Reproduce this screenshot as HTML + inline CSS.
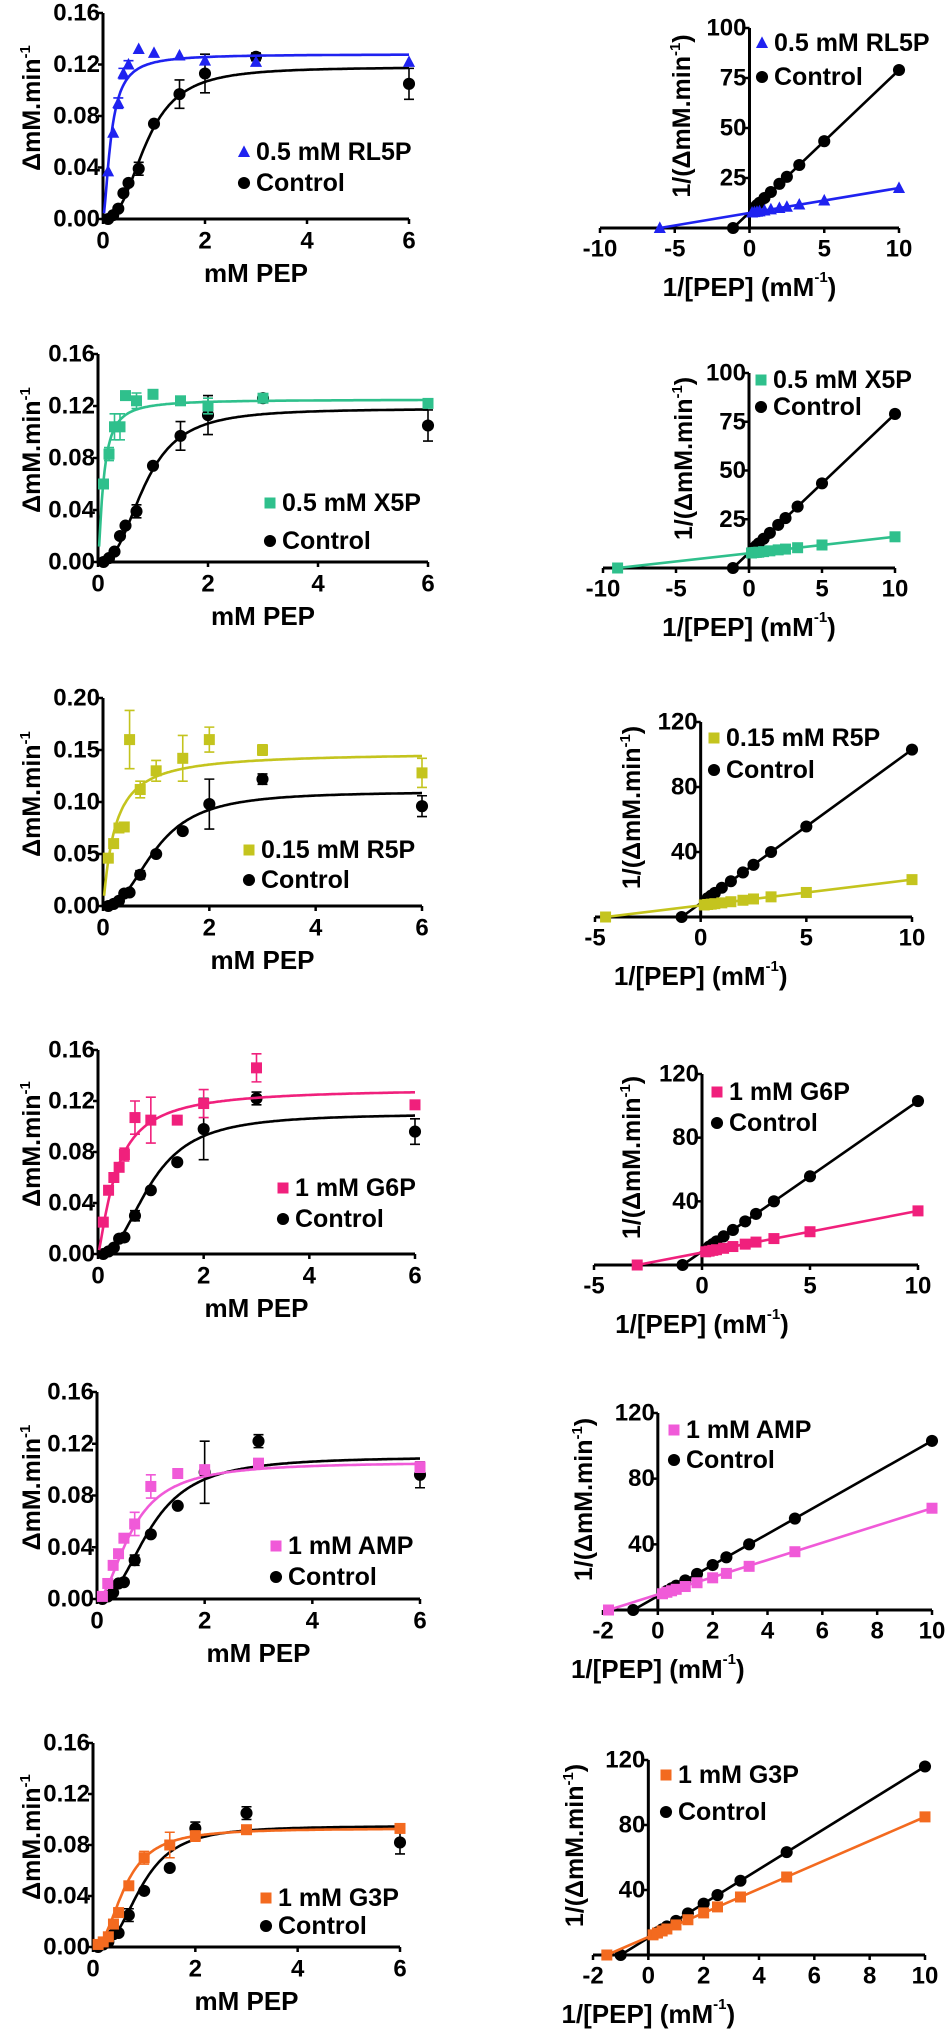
<!DOCTYPE html>
<html><head><meta charset="utf-8"><style>
html,body{margin:0;padding:0;background:#fff;}
svg{display:block;font-family:"Liberation Sans",Arial,sans-serif;font-weight:bold;}
</style></head><body>
<svg id="fig" width="950" height="2031" viewBox="0 0 950 2031" xmlns="http://www.w3.org/2000/svg"></svg>
<script>
// ---- data: substrate concentrations (mM PEP) ----
const pepX = [0.1,0.2,0.3,0.4,0.5,0.7,1,1.5,2,3,6];
// saturation data, treatment series
const rl5pV = [0.037,0.067,0.090,0.113,0.120,0.132,0.129,0.127,0.123,0.122,0.122];
const rl5pErr = [0,0,0.004,0.004,0.003,0,0,0,0.003,0,0];
const x5pV = [0.060,0.083,0.104,0.104,0.128,0.124,0.129,0.124,0.120,0.126,0.122];
const x5pErr = [0,0.005,0.010,0.010,0.002,0.006,0.002,0,0.006,0,0];
const r5pV = [0.046,0.060,0.075,0.076,0.160,0.112,0.130,0.142,0.160,0.150,0.128];
const r5pErr = [0,0,0,0,0.028,0.008,0.010,0.022,0.012,0.005,0.014];
const g6pV = [0.025,0.050,0.060,0.068,0.078,0.107,0.105,0.105,0.118,0.146,0.117];
const g6pErr = [0,0,0,0,0.005,0.013,0.018,0,0.011,0.011,0];
const ampV = [0.002,0.012,0.026,0.035,0.047,0.058,0.087,0.097,0.100,0.105,0.102];
const ampErr = [0,0,0,0,0,0.009,0.009,0,0,0,0.004];
const g3pV = [0.002,0.004,0.008,0.018,0.027,0.048,0.070,0.080,0.087,0.092,0.093];
const g3pErr = [0,0,0,0,0,0,0.005,0.010,0.004,0.003,0.003];
// saturation data, control series
const ctrlAV = [0.000,0.003,0.008,0.020,0.028,0.039,0.074,0.097,0.113,0.126,0.105];
const ctrlAErr = [0,0,0,0,0,0.005,0,0.011,0.015,0.003,0.012];
const ctrlBV = [0.000,0.002,0.005,0.012,0.013,0.030,0.050,0.072,0.098,0.122,0.096];
const ctrlBErr = [0,0,0,0,0,0.004,0,0,0.024,0.005,0.010];
const ctrlCV = [0.000,0.002,0.004,0.010,0.011,0.025,0.044,0.062,0.093,0.105,0.082];
const ctrlCErr = [0,0,0,0,0,0.005,0,0,0.005,0.005,0.009];
// Hill fit parameters [Vmax, K, n]
const fitRL5P = [0.128,0.16,1.6], fitX5P = [0.125,0.10,1.4], fitR5P = [0.148,0.22,1.1];
const fitG6P = [0.130,0.35,1.3], fitAMP = [0.106,0.65,1.9], fitG3P = [0.093,0.62,2.3];
const fitCtrlA = [0.118,0.85,2.6], fitCtrlB = [0.110,1.0,2.4], fitCtrlC = [0.095,0.95,2.8];
// Lineweaver-Burk: 1/[PEP] values (first = x-intercept)
const lbCtrlX = [-1.1,0.33,0.5,0.67,1,1.43,2,2.5,3.33,5,10];
const lbCtrlAY = [0,10.2,11.4,12.6,15,18,22.1,25.6,31.5,43.4,79];
const lbRL5PX = [-6,0.17,0.33,0.5,0.67,1,1.43,2,2.5,3.33,5,10];
const lbRL5PY = [0,7.7,7.9,8.1,8.3,8.75,9.3,10,10.6,11.7,13.75,20];
const lbX5PX = [-9,0.17,0.33,0.5,0.67,1,1.43,2,2.5,3.33,5,10];
const lbX5PY = [0,7.7,7.9,8,8.1,8.4,8.8,9.3,9.7,10.4,11.8,16];
const lbCtrlBX = [-0.9,0.33,0.5,0.67,1,1.43,2,2.5,3.33,5,10];
const lbCtrlBY = [0,11.6,13.2,14.8,18,22,27.4,32.1,40,55.7,103];
const lbR5PX = [-4.5,0.17,0.33,0.5,0.67,1,1.43,2,2.5,3.33,5,10];
const lbR5PY = [0,7.4,7.7,7.9,8.2,8.7,9.4,10.3,11.1,12.4,15.1,23];
const lbG6PX = [-3,0.17,0.33,0.5,0.67,1,1.43,2,2.5,3.33,5,10];
const lbG6PY = [0,8.3,8.7,9.2,9.6,10.5,11.6,13.1,14.4,16.6,20.9,34];
const lbAMPX = [-1.8,0.17,0.33,0.5,0.67,1,1.43,2,2.5,3.33,5,10];
const lbAMPY = [0,9.9,10.8,11.7,12.6,14.3,16.6,19.6,22.3,26.6,35.5,62];
const lbCtrlCX = [-1,0.33,0.5,0.67,1,1.43,2,2.5,3.33,5,10];
const lbCtrlCY = [0,14,15.8,17.6,21,25.6,31.6,36.9,45.7,63.3,116];
const lbG3PX = [-1.5,0.17,0.33,0.5,0.67,1,1.43,2,2.5,3.33,5,10];
const lbG3PY = [0,12.4,13.5,14.8,16,18.5,21.7,25.9,29.6,35.7,48,85];
// tick labels
const satXTicks = [0,2,4,6];
const satYTicks16 = [0,0.04,0.08,0.12,0.16];
const satYTicks20 = [0,0.05,0.10,0.15,0.20];
const lbYTicks100 = [25,50,75,100];
const lbYTicks120 = [40,80,120];
const lbXTicksA = [-10,-5,0,5,10];
const lbXTicksB = [-5,0,5,10];
const lbXTicksC = [-2,0,2,4,6,8,10];
const legendNames = ["0.5 mM RL5P","0.5 mM X5P","0.15 mM R5P","1 mM G6P","1 mM AMP","1 mM G3P"];
const colors = ["#1f22f0","#2fc08c","#c4c41e","#f0207c","#f05ad8","#f36a1f"];

const NS = "http://www.w3.org/2000/svg";
const svg = document.getElementById("fig");
function el(tag, attrs, parent){
  const e = document.createElementNS(NS, tag);
  for (const k in attrs) e.setAttribute(k, attrs[k]);
  (parent||svg).appendChild(e);
  return e;
}
function marker(g, shape, cx, cy, col, s){
  let m;
  if (shape === "circle") m = el("circle",{cx:cx,cy:cy,r:s*0.55,fill:col},g);
  else if (shape === "square") m = el("rect",{x:cx-s/2,y:cy-s/2,width:s,height:s,fill:col},g);
  else m = el("polygon",{points:`${cx},${cy-s*0.6} ${cx+s*0.55},${cy+s*0.45} ${cx-s*0.55},${cy+s*0.45}`,fill:col},g);
  return m;
}
function hill(p, x){ return p[0]*Math.pow(x,p[2])/(Math.pow(p[1],p[2])+Math.pow(x,p[2])); }

// ---- saturation panels (left) ----
function satPanel(i, L){
  const g = el("g",{});
  
  
  const sx = v => L.ax + (L.x6 - L.ax)*v/6;
  const sy = v => L.y0 - (L.y0 - L.yt)*v/L.ymax;
  const ticks = L.ymax > 0.17 ? satYTicks20 : satYTicks16;
  const axes = el("path",{d:`M${L.ax},${L.yt} V${L.y0} H${L.x6}`,stroke:"#000","stroke-width":3,fill:"none"},g);
  
  
  ticks.forEach(t=>{
    el("line",{x1:L.ax-5,x2:L.ax,y1:sy(t),y2:sy(t),stroke:"#000","stroke-width":2.5},g);
    const tx = el("text",{x:L.ax-3,y:sy(t),"text-anchor":"end","dominant-baseline":"central","font-size":24},g);
    tx.textContent = t.toFixed(2);
    
    
  });
  satXTicks.forEach(t=>{
    el("line",{x1:sx(t),x2:sx(t),y1:L.y0,y2:L.y0+5,stroke:"#000","stroke-width":2.5},g);
    const tx = el("text",{x:sx(t),y:L.y0+22,"text-anchor":"middle","dominant-baseline":"central","font-size":24},g);
    tx.textContent = t;
    
    
  });
  const xt = el("text",{x:(L.ax+L.x6)/2,y:L.y0+54,"text-anchor":"middle","dominant-baseline":"central","font-size":26},g);
  xt.textContent = "mM PEP";
  
  
  const cy = (L.y0+L.yt)/2 - 8;
  const yt = el("text",{x:0,y:0,transform:`translate(40,${cy}) rotate(-90)`,"text-anchor":"middle","font-size":25},g);
  yt.innerHTML = 'ΔmM.min<tspan font-size="15" dy="-10">-1</tspan>';
  
  
  const series = [
    {v:L.cv, e:L.ce, f:L.cf, col:"#000", shape:"circle", name:"control"},
    {v:L.tv, e:L.te, f:L.tf, col:colors[i], shape:L.shape, name:"treatment"}
  ];
  series.forEach(s=>{
    let d = "";
    for (let k=0;k<=240;k++){ const x = 0.02 + k*(5.98/240); d += (k?"L":"M")+sx(x).toFixed(1)+","+sy(hill(s.f,x)).toFixed(1); }
    const c = el("path",{d:d,stroke:s.col,"stroke-width":2.6,fill:"none"},g);
    
    
    pepX.forEach((x,k)=>{
      if (s.e[k] > 0){
        const eb = el("path",{d:`M${sx(x)},${sy(s.v[k]-s.e[k])}V${sy(s.v[k]+s.e[k])}M${sx(x)-5},${sy(s.v[k]-s.e[k])}h10M${sx(x)-5},${sy(s.v[k]+s.e[k])}h10`,stroke:s.col,"stroke-width":1.6,fill:"none"},g);
        
        
      }
      const m = marker(g, s.shape, sx(x), sy(s.v[k]), s.col, 11);
      
      
    });
  });
  legend(g, i, L.lx, L.ly1, L.ly2, L.shape);
}
function legend(g, i, lx, ly1, ly2, shape){
  const m1 = marker(g, shape, lx, ly1, colors[i], 11);
  
  
  const t1 = el("text",{x:lx+12,y:ly1,"dominant-baseline":"central","font-size":25},g);
  t1.textContent = legendNames[i];
  
  
  const m2 = marker(g, "circle", lx, ly2, "#000", 11);
  
  
  const t2 = el("text",{x:lx+12,y:ly2,"dominant-baseline":"central","font-size":25},g);
  t2.textContent = "Control";
  
  
}

// ---- Lineweaver-Burk panels (right) ----
function lbPanel(i, R){
  const g = el("g",{});
  
  
  const xmin = R.xt[0];
  const sx = v => R.xl + (R.xr - R.xl)*(v - xmin)/(10 - xmin);
  const sy = v => R.y0 - (R.y0 - R.yt)*v/R.ymax;
  const ax = sx(0);
  const axes = el("path",{d:`M${ax},${R.yt} V${R.y0} M${R.xl},${R.y0} H${R.xr}`,stroke:"#000","stroke-width":3,fill:"none"},g);
  
  
  R.yticks.forEach(t=>{
    el("line",{x1:ax-5,x2:ax,y1:sy(t),y2:sy(t),stroke:"#000","stroke-width":2.5},g);
    const tx = el("text",{x:ax-3,y:sy(t),"text-anchor":"end","dominant-baseline":"central","font-size":24},g);
    tx.textContent = t;
    
    
  });
  R.xt.forEach(t=>{
    el("line",{x1:sx(t),x2:sx(t),y1:R.y0,y2:R.y0+5,stroke:"#000","stroke-width":2.5},g);
    const tx = el("text",{x:sx(t),y:R.y0+21,"text-anchor":"middle","dominant-baseline":"central","font-size":24},g);
    tx.textContent = t;
    
    
  });
  const xt = el("text",{x:ax,y:R.y0+59,"text-anchor":"middle","dominant-baseline":"central","font-size":26},g);
  xt.innerHTML = '1/[PEP] (mM<tspan font-size="15" dy="-10">-1</tspan><tspan dy="10">)</tspan>';
  
  
  const cy = (R.y0+R.yt)/2 - 12;
  const yt = el("text",{x:0,y:0,transform:`translate(${R.ytx},${cy}) rotate(-90)`,"text-anchor":"middle","font-size":25},g);
  yt.innerHTML = '1/(ΔmM.min<tspan font-size="15" dy="-10">-1</tspan><tspan dy="10">)</tspan>';
  
  
  const series = [
    {x:R.cx, y:R.cy, col:"#000", shape:"circle", name:"control"},
    {x:R.tx, y:R.ty, col:colors[i], shape:R.shape, name:"treatment"}
  ];
  series.forEach(s=>{
    const n = s.x.length-1;
    const ln = el("line",{x1:sx(s.x[0]),y1:sy(s.y[0]),x2:sx(s.x[n]),y2:sy(s.y[n]),stroke:s.col,"stroke-width":2.6},g);
    
    
    s.x.forEach((x,k)=>{
      const m = marker(g, s.shape, sx(x), sy(s.y[k]), s.col, 11);
      
      
    });
  });
  legend(g, i, R.lx, R.ly1, R.ly2, R.shape);
}

// panel geometry (pixels)
const LEFT = [
  {ax:103,x6:409,y0:219,yt:13,ymax:0.16,tv:rl5pV,te:rl5pErr,tf:fitRL5P,cv:ctrlAV,ce:ctrlAErr,cf:fitCtrlA,shape:"tri",lx:244,ly1:152,ly2:183},
  {ax:98,x6:428,y0:562,yt:354,ymax:0.16,tv:x5pV,te:x5pErr,tf:fitX5P,cv:ctrlAV,ce:ctrlAErr,cf:fitCtrlA,shape:"square",lx:270,ly1:503,ly2:541},
  {ax:103,x6:422,y0:906,yt:698,ymax:0.20,tv:r5pV,te:r5pErr,tf:fitR5P,cv:ctrlBV,ce:ctrlBErr,cf:fitCtrlB,shape:"square",lx:249,ly1:850,ly2:880},
  {ax:98,x6:415,y0:1254,yt:1050,ymax:0.16,tv:g6pV,te:g6pErr,tf:fitG6P,cv:ctrlBV,ce:ctrlBErr,cf:fitCtrlB,shape:"square",lx:283,ly1:1188,ly2:1219},
  {ax:97,x6:420,y0:1599,yt:1392,ymax:0.16,tv:ampV,te:ampErr,tf:fitAMP,cv:ctrlBV,ce:ctrlBErr,cf:fitCtrlB,shape:"square",lx:276,ly1:1546,ly2:1577},
  {ax:93,x6:400,y0:1947,yt:1743,ymax:0.16,tv:g3pV,te:g3pErr,tf:fitG3P,cv:ctrlCV,ce:ctrlCErr,cf:fitCtrlC,shape:"square",lx:266,ly1:1898,ly2:1926}
];
const RIGHT = [
  {xl:600,xr:899,y0:228,yt:28,ymax:100,yticks:lbYTicks100,xt:lbXTicksA,cx:lbCtrlX,cy:lbCtrlAY,tx:lbRL5PX,ty:lbRL5PY,shape:"tri",ytx:690,lx:762,ly1:43,ly2:77},
  {xl:603,xr:895,y0:568,yt:373,ymax:100,yticks:lbYTicks100,xt:lbXTicksA,cx:lbCtrlX,cy:lbCtrlAY,tx:lbX5PX,ty:lbX5PY,shape:"square",ytx:692,lx:761,ly1:380,ly2:407},
  {xl:595,xr:912,y0:917,yt:722,ymax:120,yticks:lbYTicks120,xt:lbXTicksB,cx:lbCtrlBX,cy:lbCtrlBY,tx:lbR5PX,ty:lbR5PY,shape:"square",ytx:640,lx:714,ly1:738,ly2:770},
  {xl:594,xr:918,y0:1265,yt:1074,ymax:120,yticks:lbYTicks120,xt:lbXTicksB,cx:lbCtrlBX,cy:lbCtrlBY,tx:lbG6PX,ty:lbG6PY,shape:"square",ytx:640,lx:717,ly1:1092,ly2:1123},
  {xl:603,xr:932,y0:1610,yt:1413,ymax:120,yticks:lbYTicks120,xt:lbXTicksC,cx:lbCtrlBX,cy:lbCtrlBY,tx:lbAMPX,ty:lbAMPY,shape:"square",ytx:592,lx:674,ly1:1430,ly2:1460},
  {xl:593,xr:925,y0:1955,yt:1760,ymax:120,yticks:lbYTicks120,xt:lbXTicksC,cx:lbCtrlCX,cy:lbCtrlCY,tx:lbG3PX,ty:lbG3PY,shape:"square",ytx:583,lx:666,ly1:1775,ly2:1812}
];
LEFT.forEach((L,i)=>satPanel(i,L));
RIGHT.forEach((R,i)=>lbPanel(i,R));
</script>
</body></html>
